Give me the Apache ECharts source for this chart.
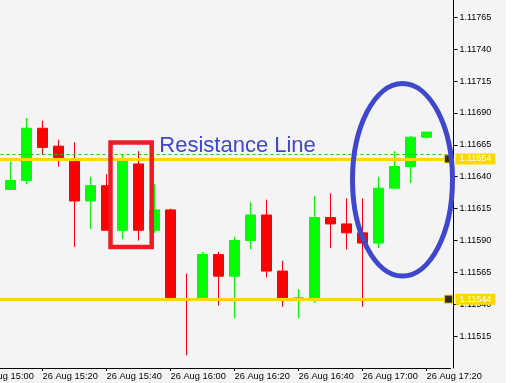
<!DOCTYPE html>
<html><head><meta charset="utf-8">
<script src="https://cdn.jsdelivr.net/npm/echarts@6/dist/echarts.min.js"></script>
<style>
html,body{margin:0;padding:0;background:#fff;}
#c{width:520px;height:383px;background:linear-gradient(to right,#f4f4f4 0,#f4f4f4 506px,#ffffff 506px);}
</style></head><body><div id="c"></div>
<script>
// 5-minute bars, 26 Aug
const times = ['15:00','15:05','15:10','15:15','15:20','15:25','15:30','15:35','15:40','15:45',
  '15:50','15:55','16:00','16:05','16:10','16:15','16:20','16:25','16:30','16:35',
  '16:40','16:45','16:50','16:55','17:00','17:05','17:10','17:15','17:20','17:25'];
const opens  = [null,null,1.11630,1.11637,1.11678,1.11664,1.11652,1.11621,1.11633,1.11598,
  1.11650,1.11598,1.11614,1.11544,1.11545,1.11579,1.11562,1.11590,1.11610,1.11566,
  1.11544,1.11545,1.11608,1.11603,1.11596,1.11588,1.11631,1.11648,1.11671,null];
const closes = [null,null,1.11637,1.11678,1.11663,1.11655,1.11621,1.11633,1.11598,1.11652,
  1.11598,1.11614,1.11545,1.11543,1.11579,1.11562,1.11590,1.11610,1.11566,1.11545,
  1.11545,1.11608,1.11603,1.11596,1.11588,1.11631,1.11648,1.11671,1.11675,null];
const lows   = [null,null,1.11630,1.11634,1.11657,1.11648,1.11585,1.11599,1.11598,1.11591,
  1.11590,1.11596,1.11544,1.11500,1.11544,1.11539,1.11529,1.11583,1.11561,1.11538,
  1.11529,1.11541,1.11584,1.11583,1.11538,1.11584,1.11631,1.11635,1.11670,null];
const highs  = [null,null,1.11652,1.11686,1.11684,1.11669,1.11667,1.11640,1.11642,1.11657,
  1.11660,1.11634,1.11615,1.11564,1.11581,1.11581,1.11593,1.11620,1.11622,1.11574,
  1.11552,1.11625,1.11627,1.11623,1.11623,1.11640,1.11660,1.11672,1.11675,null];
const yTicks = [1.11515,1.11540,1.11565,1.11590,1.11615,1.11640,1.11665,1.11690,1.11715,1.11740,1.11765];
const resistance = 1.11654;
const support = 1.11544;
const dashedLevel = 1.11658;
const yMin = 1.11490, yMax = 1.117786;

const candles = opens.map((o,i)=> o==null ? ['-','-','-','-'] : [o, closes[i], lows[i], highs[i]]);
const lastIdx = times.length - 1;

const chart = echarts.init(document.getElementById('c'), null, {renderer:'canvas'});
const axisFont = "'Liberation Sans',sans-serif";
const levelLabel = {show:true, position:'end', distance:5, formatter:'{c}', color:'#fff',
  backgroundColor:'#ffd700', padding:[1,4,0,4], fontSize:9, fontFamily:axisFont, lineHeight:10};
chart.setOption({
  animation:false,
  backgroundColor:'transparent',
  grid:{left:-29.5, width:480, top:0, height:368, containLabel:false, outerBoundsMode:'none'},
  xAxis:{type:'category', data:times, boundaryGap:true,
    axisLine:{show:true, lineStyle:{color:'#000', width:1}},
    axisTick:{show:true, alignWithLabel:true, interval:3, length:3, lineStyle:{color:'#000'}},
    axisLabel:{interval:3, align:'left', margin:4, color:'#000', fontSize:9.3, fontFamily:axisFont,
      formatter:v=>'26 Aug '+v},
    splitLine:{show:false}},
  yAxis:{type:'value', position:'right', offset:3, min:yMin, max:yMax, scale:true,
    axisLine:{show:true, lineStyle:{color:'#000', width:1}},
    axisTick:{show:true, length:4, inside:false, customValues:yTicks, lineStyle:{color:'#000'}},
    axisLabel:{customValues:yTicks, margin:6, color:'#000', fontSize:9, fontFamily:axisFont,
      formatter:v=>v.toFixed(5)},
    splitLine:{show:false}},
  series:[{
    type:'candlestick', data:candles, barWidth:10,
    itemStyle:{color:'#00ff00', color0:'#ff0000', borderColor:'#00ff00', borderColor0:'#ff0000', borderWidth:1},
    markLine:{silent:true, symbol:['none','none'], animation:false, precision:5,
      data:[
        {yAxis:dashedLevel, lineStyle:{color:'#19c819', width:1, type:[3,3]}, label:{show:false}},
        {yAxis:resistance, lineStyle:{color:'#ffd700', width:3, type:'solid'}, label:levelLabel},
        {yAxis:support, lineStyle:{color:'#ffd700', width:3, type:'solid'}, label:levelLabel}
      ]}
  },{
    type:'scatter', data:[[lastIdx, resistance],[lastIdx, support]],
    symbol:'rect', symbolSize:8, symbolOffset:[6,0], z:5, clip:false,
    itemStyle:{color:'#000', borderColor:'#ffd700', borderWidth:1}, silent:true
  }]
});

// annotations anchored to data coordinates
const P = (i,v)=>chart.convertToPixel({gridIndex:0},[i,v]);
const boxL = P(9,1.116669), boxR = P(10,1.115849);
const ellC = P(26,1.116376), ellC2 = P(27,1.116376), ellT = P(26,1.117131), ellB = P(26,1.115621);
const txt = P(11,1.116578);
chart.setOption({graphic:[
  {type:'rect', z:100, shape:{x:boxL[0]-12, y:boxL[1], width:(boxR[0]+13.2)-(boxL[0]-12), height:boxR[1]-boxL[1]},
    style:{fill:'none', stroke:'#ed1c24', lineWidth:4.5}},
  {type:'ellipse', z:100, shape:{cx:(ellC[0]+ellC2[0])/2, cy:ellC[1], rx:50, ry:(ellB[1]-ellT[1])/2},
    style:{fill:'none', stroke:'#3f48cc', lineWidth:5}},
  {type:'text', z:100, style:{text:'Resistance Line', x:txt[0]+4.8, y:txt[1]-7.6, verticalAlign:'middle', align:'left',
    fill:'#3f48cc', font:"22px 'Liberation Sans', sans-serif"}}
]});
</script></body></html>
